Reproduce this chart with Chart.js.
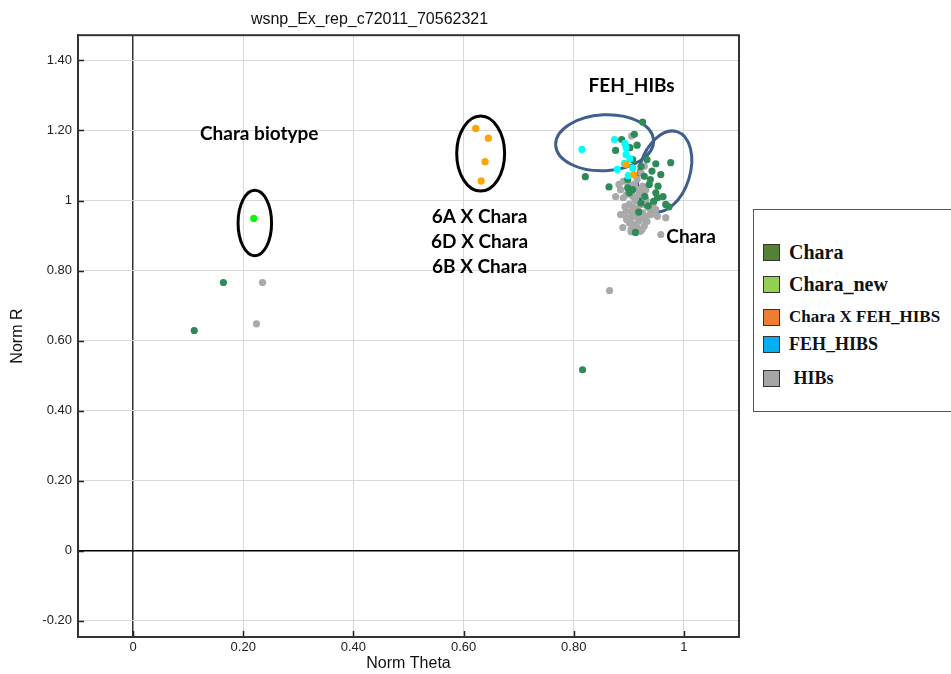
<!DOCTYPE html>
<html>
<head>
<meta charset="utf-8">
<script src="https://cdn.jsdelivr.net/npm/chart.js@4"></script>
<style>
  html, body { margin: 0; padding: 0; background: #fff; }
  #wrap { position: relative; width: 951px; height: 674px; overflow: hidden; }
  #legendBox {
    position: absolute; left: 753px; top: 209px; width: 220px; height: 203px;
    border: 1px solid #555; box-sizing: border-box; background: #fff;
    font-family: "Liberation Serif", "Times New Roman", serif; font-weight: bold; color: #111;
  }
  .lg-row { position: absolute; left: 9px; display: flex; align-items: center; white-space: nowrap; }
  .lg-sw { width: 17px; height: 17px; border: 1px solid #333; box-sizing: border-box; margin-right: 9px; }
</style>
</head>
<body>
<div id="wrap">
  <canvas id="chart" width="951" height="674"></canvas>
  <div id="legendBox"></div>
</div>
<script>
// axis ticks
const xTickValues = [0, 0.2, 0.4, 0.6, 0.8, 1];
const xTickLabels = ['0', '0.20', '0.40', '0.60', '0.80', '1'];
const yTickValues = [-0.2, 0, 0.2, 0.4, 0.6, 0.8, 1, 1.2, 1.4];
const yTickLabels = ['-0.20', '0', '0.20', '0.40', '0.60', '0.80', '1', '1.20', '1.40'];

// Chara_new
const charaNewTheta = [0.219];
const charaNewR = [0.949];

// Chara X FEH_HIBS
const crossTheta = [0.622, 0.645, 0.639, 0.632, 0.895, 0.909];
const crossR = [1.206, 1.178, 1.111, 1.056, 1.103, 1.074];

// FEH_HIBS
const fehTheta = [0.815, 0.874, 0.893, 0.895, 0.895, 0.902, 0.892, 0.907, 0.879, 0.899];
const fehR = [1.146, 1.174, 1.163, 1.151, 1.131, 1.119, 1.106, 1.093, 1.089, 1.071];

// Chara
const charaTheta = [0.164, 0.111, 0.816,
  0.925, 0.887, 0.910, 0.915, 0.902, 0.876, 0.821, 0.864, 0.949, 0.976,
  0.942, 0.928, 0.939, 0.898, 0.901, 0.929, 0.937, 0.953, 0.949, 0.962,
  0.952, 0.967, 0.973, 0.922, 0.918, 0.912, 0.907, 0.898, 0.935, 0.945,
  0.907, 0.922, 0.958, 0.933];
const charaR = [0.766, 0.629, 0.517,
  1.224, 1.174, 1.189, 1.158, 1.151, 1.143, 1.068, 1.039, 1.105, 1.108,
  1.084, 1.069, 1.060, 1.036, 1.022, 1.012, 1.046, 1.041, 1.022, 1.011,
  1.008, 0.989, 0.982, 0.993, 0.967, 0.909, 1.031, 1.060, 0.985, 0.998,
  1.117, 1.097, 1.074, 1.117];

// HIBs
const hibsTheta = [0.235, 0.224, 0.865, 0.958,
  0.905, 0.928, 0.922, 0.890, 0.910, 0.925, 0.890, 0.907, 0.901, 0.916,
  0.910, 0.925, 0.905, 0.918, 0.901, 0.928, 0.915, 0.952, 0.967, 0.931,
  0.940, 0.918, 0.895, 0.933, 0.904, 0.912, 0.920, 0.938, 0.903, 0.913,
  0.926, 0.909, 0.896, 0.921, 0.944, 0.930,
  0.885, 0.896, 0.911, 0.922, 0.935, 0.893, 0.904, 0.916, 0.929, 0.885,
  0.896, 0.909, 0.924, 0.940, 0.944, 0.876, 0.882, 0.900, 0.915, 0.931,
  0.949, 0.904, 0.889, 0.918];
const hibsR = [0.766, 0.648, 0.743, 0.903,
  1.184, 1.098, 1.079, 1.055, 1.046, 1.041, 1.008, 1.012, 0.989, 0.979,
  0.965, 0.965, 0.951, 0.941, 0.936, 0.927, 0.922, 0.955, 0.951, 1.003,
  0.974, 1.017, 0.969, 0.940, 0.917, 1.000, 0.955, 0.960, 1.025, 0.930,
  1.028, 0.980, 0.950, 0.912, 0.995, 0.945,
  1.031, 1.017, 1.003, 0.989, 0.980, 0.983, 0.969, 0.954, 0.954, 0.960,
  0.946, 0.931, 0.917, 0.960, 0.989, 1.011, 1.046, 1.046, 1.060, 1.031,
  0.974, 0.911, 0.923, 1.031];

// group marks and labels, in data units
const ellipses = [
  { cx: 0.221, cy: 0.936, rx: 0.0304, ry: 0.0934, rot: 0, color: '#000' },
  { cx: 0.631, cy: 1.134, rx: 0.0435, ry: 0.1070, rot: 0, color: '#000' },
  { cx: 0.856, cy: 1.165, rx: 0.089, ry: 0.080, rot: -0.05, color: '#3f5f8e' },
  { cx: 0.965, cy: 1.083, rx: 0.046, ry: 0.119, rot: 0.3, color: '#3f5f8e' }
];
const noteTexts = ['Chara biotype', 'FEH_HIBs', 'Chara', '6A X Chara', '6D X Chara', '6B X Chara'];
const noteX = [0.229, 0.905, 1.013, 0.629, 0.629, 0.629];
const noteY = [1.191, 1.326, 0.897, 0.954, 0.883, 0.811];

const legendNames = ['Chara', 'Chara_new', 'Chara X FEH_HIBS', 'FEH_HIBS', ' HIBs'];
const legendColors = ['#548235', '#92d050', '#ed7d31', '#00b0f0', '#a5a5a5'];

const zip = (xs, ys) => xs.map((x, i) => ({ x, y: ys[i] }));

// legend box (outside the chart, like the source figure)
const legendTops = [42, 74, 107, 134, 168];
const legendSizes = [20, 20, 17, 18, 18];
const lb = document.getElementById('legendBox');
legendNames.forEach((name, i) => {
  const row = document.createElement('div');
  row.className = 'lg-row';
  row.style.top = (legendTops[i] - 10) + 'px';
  row.style.fontSize = legendSizes[i] + 'px';
  row.style.height = '20px';
  row.innerHTML = '<div class="lg-sw" style="background:' + legendColors[i] + '"></div><span style="white-space:pre">' + name + '</span>';
  lb.appendChild(row);
});

const frame = {
  id: 'frame',
  beforeDatasetsDraw(chart) {
    const { ctx } = chart;
    const x = chart.scales.x, y = chart.scales.y;
    ctx.save();
    ellipses.forEach(e => {
      const px = x.getPixelForValue(e.cx), py = y.getPixelForValue(e.cy);
      const rx = Math.abs(x.getPixelForValue(e.cx + e.rx) - px);
      const ry = Math.abs(y.getPixelForValue(e.cy + e.ry) - py);
      ctx.beginPath();
      ctx.ellipse(px, py, rx, ry, e.rot, 0, Math.PI * 2);
      ctx.lineWidth = 3;
      ctx.strokeStyle = e.color;
      ctx.stroke();
    });
    ctx.restore();
  },
  afterDatasetsDraw(chart) {
    const { ctx, chartArea: a } = chart;
    const x = chart.scales.x, y = chart.scales.y;
    ctx.save();
    ctx.fillStyle = '#000';
    ctx.font = 'bold 19px Lato, "Open Sans", sans-serif';
    ctx.textAlign = 'center';
    ctx.textBaseline = 'middle';
    noteTexts.forEach((t, i) => {
      ctx.fillText(t, x.getPixelForValue(noteX[i]), y.getPixelForValue(noteY[i]));
    });
    // inward tick marks
    ctx.strokeStyle = '#222';
    ctx.lineWidth = 1.5;
    ctx.beginPath();
    yTickValues.forEach(v => {
      const py = Math.round(y.getPixelForValue(v)) + 0.5;
      ctx.moveTo(a.left, py); ctx.lineTo(a.left + 6, py);
    });
    xTickValues.forEach(v => {
      const px = Math.round(x.getPixelForValue(v)) + 0.5;
      ctx.moveTo(px, a.bottom); ctx.lineTo(px, a.bottom - 6);
    });
    ctx.stroke();
    ctx.strokeStyle = '#333';
    ctx.lineWidth = 2;
    ctx.strokeRect(a.left, a.top, a.right - a.left, a.bottom - a.top);
    ctx.restore();
  }
};

const pointStyle = c => ({ backgroundColor: c, borderWidth: 0, pointRadius: 3.6, pointHoverRadius: 3.6 });

new Chart(document.getElementById('chart'), {
  type: 'scatter',
  data: {
    datasets: [
      { label: 'Chara X FEH_HIBS', data: zip(crossTheta, crossR), ...pointStyle('#ffa500') },
      { label: 'FEH_HIBS', data: zip(fehTheta, fehR), ...pointStyle('#00ffff') },
      { label: 'Chara_new', data: zip(charaNewTheta, charaNewR), ...pointStyle('#00ff00') },
      { label: 'Chara', data: zip(charaTheta, charaR), ...pointStyle('#2e8b57') },
      { label: 'HIBs', data: zip(hibsTheta, hibsR), ...pointStyle('#a9a9a9') }
    ]
  },
  options: {
    responsive: false,
    animation: false,
    events: [],
    layout: { padding: { left: 0, right: 212, top: 0, bottom: 0 } },
    plugins: {
      legend: { display: false },
      tooltip: { enabled: false },
      title: {
        display: true,
        text: 'wsnp_Ex_rep_c72011_70562321',
        color: '#111',
        font: { family: '"Liberation Sans", Arial, sans-serif', size: 16, weight: 'normal' },
        padding: { top: 10, bottom: 6 }
      }
    },
    scales: {
      x: {
        type: 'linear', min: -0.1, max: 1.1,
        afterBuildTicks: s => { s.ticks = xTickValues.map(v => ({ value: v })); },
        afterFit: s => { s.height = 37; },
        ticks: {
          color: '#222', padding: 3,
          font: { family: '"Liberation Sans", Arial, sans-serif', size: 13 },
          callback: v => xTickLabels[xTickValues.indexOf(v)]
        },
        grid: {
          drawTicks: false,
          color: c => (c.tick && c.tick.value === 0) ? '#333' : '#d9d9d9',
          lineWidth: c => (c.tick && c.tick.value === 0) ? 1.5 : 1
        },
        border: { color: '#333', width: 2 },
        title: {
          display: true, text: 'Norm Theta', color: '#111',
          font: { family: '"Liberation Sans", Arial, sans-serif', size: 16 },
          padding: { top: 0, bottom: 1 }
        }
      },
      y: {
        type: 'linear', min: -0.246, max: 1.472,
        afterBuildTicks: s => { s.ticks = yTickValues.map(v => ({ value: v })); },
        afterFit: s => { s.width = 78; },
        ticks: {
          color: '#222', padding: 6,
          font: { family: '"Liberation Sans", Arial, sans-serif', size: 13 },
          callback: v => yTickLabels[yTickValues.indexOf(v)]
        },
        grid: {
          drawTicks: false,
          color: c => (c.tick && c.tick.value === 0) ? '#000' : '#d9d9d9',
          lineWidth: c => (c.tick && c.tick.value === 0) ? 1.5 : 1
        },
        border: { color: '#333', width: 2 },
        title: {
          display: true, text: 'Norm R', color: '#111',
          font: { family: '"Liberation Sans", Arial, sans-serif', size: 16 },
          padding: { top: 8, bottom: 0 }
        }
      }
    }
  },
  plugins: [frame]
});
</script>
</body>
</html>
